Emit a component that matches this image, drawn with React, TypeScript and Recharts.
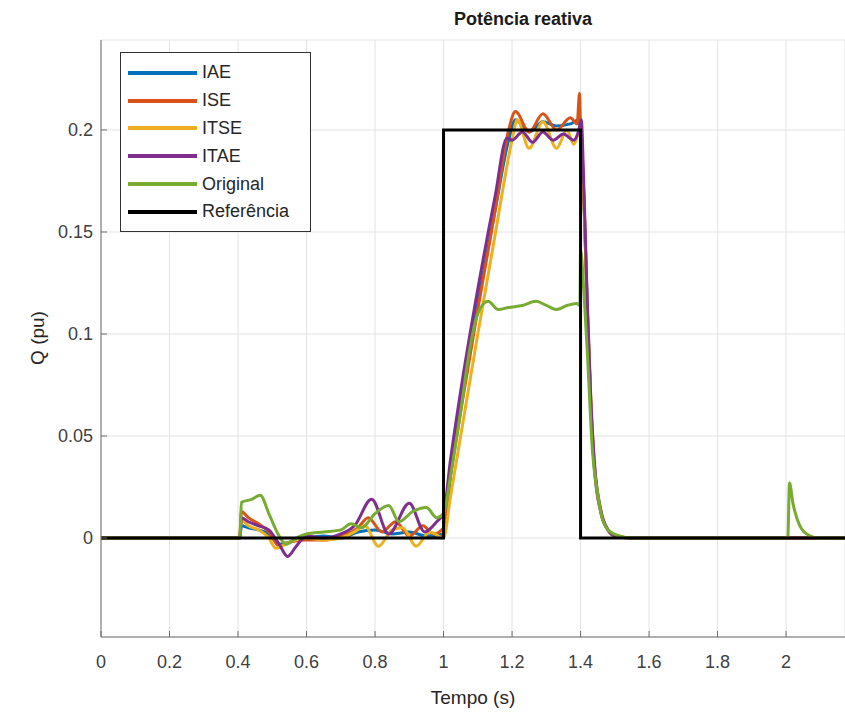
import React from "react";
import {
  LineChart,
  Line,
  XAxis,
  YAxis,
  CartesianGrid,
  Label,
} from "recharts";

// tempo (s) e Q (pu) de cada curva
const tRef = [0, 1, 1, 1.4, 1.4, 2.172];
const qRef = [0, 0, 0.2, 0.2, 0, 0];

const tIAE = [0, 0.405, 0.41, 0.43, 0.46, 0.49, 0.52, 0.55, 0.6, 0.65, 0.7, 0.75, 0.8, 0.85, 0.9, 0.95, 1.0, 1.02, 1.05, 1.1, 1.15, 1.19, 1.21, 1.25, 1.29, 1.33, 1.37, 1.395, 1.4, 1.41, 1.42, 1.43, 1.44, 1.46, 1.48, 1.5, 1.55, 2.172];
const qIAE = [0, 0, 0.006, 0.005, 0.004, 0.002, -0.003, -0.002, 0, 0.001, 0, 0.003, 0.004, 0.002, 0.003, 0.001, 0.002, 0.03, 0.065, 0.115, 0.16, 0.195, 0.205, 0.199, 0.204, 0.202, 0.203, 0.205, 0.2, 0.165, 0.11, 0.065, 0.035, 0.012, 0.004, 0.001, 0, 0];

const tISE = [0, 0.405, 0.41, 0.43, 0.46, 0.49, 0.52, 0.55, 0.6, 0.65, 0.7, 0.75, 0.78, 0.82, 0.86, 0.9, 0.94, 0.97, 1.0, 1.02, 1.05, 1.1, 1.15, 1.19, 1.21, 1.25, 1.29, 1.33, 1.37, 1.39, 1.397, 1.4, 1.41, 1.42, 1.43, 1.44, 1.46, 1.48, 1.5, 1.55, 2.172];
const qISE = [0, 0, 0.013, 0.01, 0.007, 0.003, -0.004, -0.002, -0.001, -0.001, 0.001, 0.005, 0.01, 0.003, 0.008, 0.001, 0.006, 0.002, 0.005, 0.03, 0.062, 0.112, 0.16, 0.2, 0.209, 0.199, 0.208, 0.2, 0.206, 0.203, 0.218, 0.2, 0.165, 0.11, 0.066, 0.036, 0.012, 0.004, 0.001, 0, 0];

const tITSE = [0, 0.405, 0.41, 0.43, 0.46, 0.49, 0.51, 0.55, 0.6, 0.65, 0.7, 0.74, 0.77, 0.81, 0.85, 0.88, 0.92, 0.96, 1.0, 1.02, 1.05, 1.1, 1.15, 1.2, 1.215, 1.25, 1.29, 1.33, 1.36, 1.38, 1.4, 1.41, 1.42, 1.43, 1.44, 1.46, 1.48, 1.5, 1.55, 2.172];
const qITSE = [0, 0, 0.009, 0.006, 0.004, 0, -0.005, -0.002, 0, -0.001, 0, 0.003, 0.006, -0.004, 0.004, 0.005, -0.004, 0.003, 0, 0.02, 0.05, 0.1, 0.148, 0.195, 0.205, 0.191, 0.204, 0.191, 0.2, 0.193, 0.2, 0.166, 0.112, 0.067, 0.037, 0.013, 0.004, 0.001, 0, 0];

const tITAE = [0, 0.405, 0.41, 0.43, 0.46, 0.49, 0.52, 0.545, 0.57, 0.6, 0.65, 0.7, 0.74, 0.79, 0.84, 0.9, 0.945, 0.98, 1.0, 1.02, 1.05, 1.1, 1.15, 1.185, 1.2, 1.23, 1.26, 1.29, 1.32, 1.35, 1.38, 1.395, 1.402, 1.41, 1.42, 1.43, 1.44, 1.46, 1.48, 1.5, 1.55, 2.172];
const qITAE = [0, 0, 0.01, 0.008, 0.006, 0.004, -0.003, -0.009, -0.004, 0.001, 0, 0.002, 0.006, 0.019, 0.002, 0.017, 0.003, 0.008, 0.012, 0.038, 0.072, 0.122, 0.167, 0.196, 0.195, 0.199, 0.194, 0.199, 0.195, 0.198, 0.195, 0.2, 0.205, 0.17, 0.114, 0.068, 0.038, 0.013, 0.004, 0.001, 0, 0];

const tOrig = [0, 0.405, 0.41, 0.44, 0.465, 0.49, 0.52, 0.54, 0.57, 0.6, 0.65, 0.7, 0.73, 0.76, 0.8, 0.84, 0.87, 0.91, 0.95, 0.98, 1.0, 1.02, 1.05, 1.076, 1.1, 1.13, 1.16, 1.19, 1.23, 1.27, 1.3, 1.33, 1.36, 1.39, 1.398, 1.4, 1.41, 1.42, 1.435, 1.45, 1.46, 1.48, 1.514, 1.55, 2.005, 2.01, 2.02, 2.033, 2.06, 2.1, 2.172];
const qOrig = [0, 0, 0.0175, 0.019, 0.021, 0.012, 0.001, -0.003, 0, 0.002, 0.003, 0.004, 0.007, 0.005, 0.012, 0.016, 0.008, 0.013, 0.015, 0.01, 0.012, 0.03, 0.062, 0.092, 0.11, 0.116, 0.112, 0.113, 0.114, 0.116, 0.114, 0.112, 0.114, 0.115, 0.114, 0.141, 0.12, 0.09, 0.042, 0.022, 0.012, 0.004, 0.001, 0, 0, 0.027, 0.017, 0.009, 0.002, 0, 0];

const xTicks = [0, 0.2, 0.4, 0.6, 0.8, 1, 1.2, 1.4, 1.6, 1.8, 2];
const yTicks = [0, 0.05, 0.1, 0.15, 0.2];

const zip = (t: number[], q: number[]) => t.map((v, i) => ({ t: v, q: q[i] }));

const series = [
  { name: "IAE", color: "#0072BD", data: zip(tIAE, qIAE) },
  { name: "ISE", color: "#D95319", data: zip(tISE, qISE) },
  { name: "ITSE", color: "#EDB120", data: zip(tITSE, qITSE) },
  { name: "ITAE", color: "#7E2F8E", data: zip(tITAE, qITAE) },
  { name: "Original", color: "#77AC30", data: zip(tOrig, qOrig) },
  { name: "Referência", color: "#000000", data: zip(tRef, qRef) },
];

const FONT = '"Liberation Sans", Arial, Helvetica, sans-serif';
const AXIS = "#6e6e6e";
const TXT = "#404040";
const FS = 18;

// ticks para dentro, estilo matlab
const BottomTick = (props: any) => {
  const { x, y, payload } = props;
  const axisY = y - 18;
  return (
    <g>
      <line x1={x} x2={x} y1={axisY} y2={axisY - 6} stroke={AXIS} />
      <text x={x} y={y} dy="0.71em" textAnchor="middle" fill={TXT} fontSize={FS} fontFamily={FONT}>
        {payload.value}
      </text>
    </g>
  );
};

const TopTick = (props: any) => {
  const { x, y } = props;
  return <line x1={x} x2={x} y1={y} y2={y + 6} stroke={AXIS} />;
};

const LeftTick = (props: any) => {
  const { x, y, payload } = props;
  const axisX = x + 8;
  return (
    <g>
      <line x1={axisX} x2={axisX + 6} y1={y} y2={y} stroke={AXIS} />
      <text x={x} y={y} dy="0.355em" textAnchor="end" fill={TXT} fontSize={FS} fontFamily={FONT}>
        {payload.value}
      </text>
    </g>
  );
};

export default function App() {
  return (
    <div
      style={{
        position: "absolute",
        left: 0,
        top: 0,
        width: 845,
        height: 713,
        overflow: "hidden",
        background: "#fff",
        fontFamily: FONT,
      }}
    >
      {/* titulo */}
      <div
        style={{
          position: "absolute",
          left: 373,
          top: 9,
          width: 300,
          textAlign: "center",
          fontWeight: "bold",
          fontSize: 18,
          color: "#1a1a1a",
        }}
      >
        Potência reativa
      </div>
      {/* rotulo eixo y */}
      <div
        style={{
          position: "absolute",
          left: 38,
          top: 338,
          transform: "translate(-50%, -50%) rotate(-90deg)",
          fontSize: 19,
          color: "#262626",
          whiteSpace: "nowrap",
        }}
      >
        Q (pu)
      </div>
      <LineChart width={845} height={713} margin={{ top: 40, right: 0, bottom: 0, left: 0 }}>
        <CartesianGrid stroke="#e3e3e3" strokeWidth={1} />
        <XAxis
          dataKey="t"
          type="number"
          domain={[0, 2.172]}
          ticks={xTicks}
          allowDataOverflow
          height={76}
          tickSize={0}
          tickMargin={18}
          tickLine={false}
          tick={BottomTick}
          stroke={AXIS}
        >
          <Label value="Tempo (s)" position="insideBottom" offset={9} fill="#262626" fontSize={19} fontFamily={FONT} />
        </XAxis>
        <XAxis
          xAxisId="top"
          orientation="top"
          dataKey="t"
          type="number"
          domain={[0, 2.172]}
          ticks={xTicks}
          allowDataOverflow
          height={0}
          tickSize={0}
          tickMargin={0}
          tickLine={false}
          tick={TopTick}
          stroke={AXIS}
        />
        <YAxis
          type="number"
          domain={[-0.0485, 0.2441]}
          ticks={yTicks}
          allowDataOverflow
          width={101}
          tickSize={0}
          tickMargin={8}
          tickLine={false}
          tick={LeftTick}
          stroke={AXIS}
        />
        {series.map((s) => (
          <Line
            key={s.name}
            data={s.data}
            dataKey="q"
            name={s.name}
            type={s.name === "Referência" ? "linear" : "monotone"}
            stroke={s.color}
            strokeWidth={3}
            dot={false}
            activeDot={false}
            isAnimationActive={false}
          />
        ))}
      </LineChart>
      {/* legenda */}
      <div
        style={{
          position: "absolute",
          left: 120,
          top: 52,
          width: 191,
          height: 180,
          border: "1px solid #333",
          background: "#fff",
          boxSizing: "border-box",
          paddingTop: 6,
        }}
      >
        {series.map((s) => (
          <div key={s.name} style={{ display: "flex", alignItems: "center", height: 27.8 }}>
            <div style={{ width: 69, height: 4, background: s.color, marginLeft: 7, marginRight: 5 }} />
            <span style={{ fontSize: 18, color: "#262626" }}>{s.name}</span>
          </div>
        ))}
      </div>
    </div>
  );
}
